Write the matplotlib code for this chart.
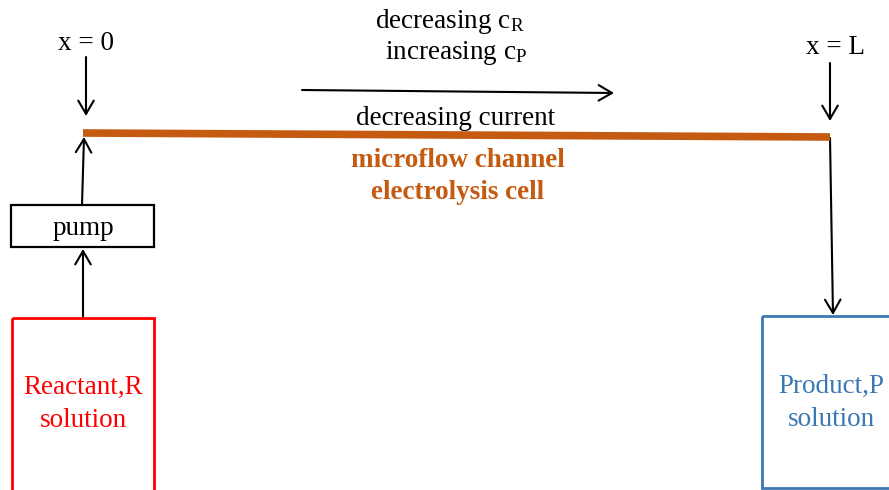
import matplotlib
matplotlib.use("Agg")
import matplotlib.pyplot as plt
from matplotlib.patches import Rectangle, FancyArrowPatch

plt.rcParams['font.family'] = ['Liberation Serif', 'DejaVu Serif']
plt.rcParams['mathtext.fontset'] = 'custom'
plt.rcParams['mathtext.rm'] = 'Liberation Serif'
plt.rcParams['mathtext.it'] = 'Liberation Serif:italic'
plt.rcParams['mathtext.bf'] = 'Liberation Serif:bold'

# labels
pos_labels = ["x = 0", "x = L"]
top_labels = [r"decreasing c$_\mathrm{R}$", r"increasing c$_\mathrm{P}$"]
current_label = "decreasing current"
channel_labels = ["microflow channel", "electrolysis cell"]
pump_label = "pump"
reactant_label = "Reactant,R\nsolution"
product_label = "Product,P\nsolution"

ORANGE = "#C55A11"
RED = "#FF0000"
BLUE = "#3A78B4"

W, H = 889, 490
fig = plt.figure(figsize=(W/100, H/100), dpi=100)
ax = fig.add_axes([0, 0, 1, 1])
ax.set_xlim(0, W)
ax.set_ylim(H, 0)
ax.axis('off')

def arrow(x0, y0, x1, y1):
    a = FancyArrowPatch((x0, y0), (x1, y1), arrowstyle='->,head_length=6,head_width=3.5',
                        mutation_scale=1.6, lw=1.5, color='black', shrinkA=0, shrinkB=0)
    ax.add_patch(a)

fs = 19.5

# position labels
ax.text(86, 44, pos_labels[0], ha='center', va='center', fontsize=fs)
ax.text(835, 48, pos_labels[1], ha='center', va='center', fontsize=fs)
arrow(86, 57, 86, 116)
arrow(830, 63, 830, 121)

# channel
ax.plot([83, 830], [133, 137], color=ORANGE, lw=5.5, solid_capstyle='butt')

# top texts
ax.text(450, 22, top_labels[0], ha='center', va='center', fontsize=fs)
ax.text(456, 53, top_labels[1], ha='center', va='center', fontsize=fs)
arrow(302, 90, 614, 93)
ax.text(456, 118, current_label, ha='center', va='center', fontsize=fs)
ax.text(458, 160, channel_labels[0], ha='center', va='center', fontsize=fs,
        color=ORANGE, fontweight='bold')
ax.text(458, 192, channel_labels[1], ha='center', va='center', fontsize=fs,
        color=ORANGE, fontweight='bold')

# pump
ax.add_patch(Rectangle((11, 205), 143, 42, fill=False, ec='black', lw=1.6))
ax.text(83, 228, pump_label, ha='center', va='center', fontsize=fs)
arrow(82, 205, 84, 137)
arrow(83, 317, 83, 249)

# reactant box
ax.add_patch(Rectangle((12, 318), 142, 180, fill=False, ec=RED, lw=2))
ax.text(83, 404, reactant_label, ha='center', va='center', fontsize=fs, color=RED,
        linespacing=1.45)

# product
arrow(830, 138, 833, 315)
ax.add_patch(Rectangle((762, 316), 140, 172, fill=False, ec=BLUE, lw=2))
ax.text(831, 403, product_label, ha='center', va='center', fontsize=fs, color=BLUE,
        linespacing=1.4)

fig.savefig("out.png", dpi=100, facecolor='white')
